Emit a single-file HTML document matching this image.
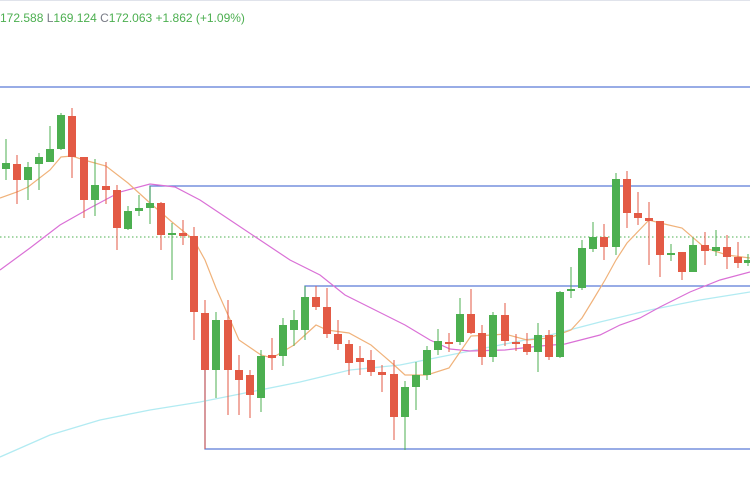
<!DOCTYPE html>
<html><head><meta charset="utf-8"><style>
html,body{margin:0;padding:0;background:#fff;}
svg{display:block;font-family:"Liberation Sans",sans-serif;}
</style></head><body>
<svg id="c" width="750" height="500" viewBox="0 0 750 500" xmlns="http://www.w3.org/2000/svg">
<rect width="750" height="500" fill="#fff"/>
<line x1="0" y1="0.5" x2="750" y2="0.5" stroke="#e0e3eb"/>
<text x="0" y="22" font-size="12" fill="#4caf50">172.588 <tspan fill="#787b86">L</tspan>169.124 <tspan fill="#787b86">C</tspan>172.063 +1.862 (+1.09%)</text>
<line x1="0" y1="237" x2="750" y2="237" stroke="#4caf50" stroke-dasharray="1.5,2.5" stroke-width="1"/>
<g stroke="#5b7bd6" stroke-width="1.3" fill="none">
<line x1="0" y1="87" x2="750" y2="87"/>
<polyline points="150,203 150,186 750,186"/>
<polyline points="305,297 305,286 750,286"/>
<polyline points="205,370 205,449 750,449"/>
</g>
<polyline fill="none" stroke="#b2ebf2" stroke-width="1.3" points="0,457 50,435 100,420 150,410 200,402 250,392 300,382 350,370 400,365 450,355 500,345 550,335 600,322 650,310 700,300 750,292"/>
<polyline fill="none" stroke="#da70d6" stroke-width="1.2" points="0,270 30,248 60,225 90,208 120,192 150,184 175,187 200,200 230,220 260,240 290,260 320,275 345,295 375,310 405,325 430,340 450,349 470,351 505,350 540,346 565,344 600,335 620,325 640,318 660,307 690,292 720,280 750,272"/>
<polyline fill="none" stroke="#f0b27a" stroke-width="1.2" points="0,198 17,192 28,187 50,170 61,157 72,156 84,160 106,166 128,183 150,203 172,222 194,240 205,260 216,288 228,315 239,340 261,355 272,358 294,345 305,335 316,325 327,330 349,333 371,345 393,364 405,375 427,375 449,368 471,336 493,335 505,334 527,340 549,338 571,330 582,318 593,300 605,280 616,260 627,243 649,220 660,223 682,228 705,248 727,255 750,258"/>
<g id="cs"></g>
</svg>
<script>
var d=[
[6,163,169,139,180,1],[17,164,180,155,204,0],[28,167,180,162,200,1],[39,157,164,153,190,1],[50,149,162,126,162,1],[61,115,149,113,150,1],[72,116,157,108,178,0],
[84,157,200,157,218,0],[95,185,200,159,216,1],[106,186,190,162,204,0],[117,190,228,185,250,0],[128,211,229,206,230,1],[139,208,211,195,216,1],[150,203,208,186,224,1],
[161,203,235,202,250,0],[172,233,235,223,280,1],[183,233,236,220,245,0],[194,236,312,227,340,0],[205,313,370,300,449,0],[216,320,370,312,398,1],[228,320,370,300,415,0],
[239,370,380,355,415,0],[250,375,395,370,418,0],[261,356,398,350,412,1],[272,355,358,338,370,0],[283,325,356,318,366,1],[294,320,330,310,346,1],[305,297,330,286,340,1],
[316,297,307,286,310,0],[327,307,334,288,338,0],[338,334,344,320,350,0],[349,344,363,340,375,0],[360,358,362,346,375,0],[371,360,372,350,376,0],[382,372,375,365,392,0],
[394,374,417,360,440,0],[405,387,417,381,450,1],[416,375,387,362,410,1],[427,350,375,346,380,1],[438,341,350,329,355,1],[449,342,344,333,352,0],[460,314,342,298,345,1],
[471,314,333,289,334,0],[482,333,357,325,365,0],[493,315,357,312,362,1],[505,315,341,303,346,0],[516,342,344,334,351,0],[527,344,352,333,355,0],[538,335,352,323,372,1],
[549,335,357,330,360,0],[560,292,357,291,358,1],[571,289,291,267,298,1],[582,248,288,240,290,1],[593,237,249,222,252,1],[604,237,247,224,260,0],[616,179,247,173,255,1],
[627,179,213,171,228,0],[638,213,218,192,225,0],[649,218,221,202,265,0],[660,221,255,221,277,0],[671,253,255,244,261,1],[682,252,272,252,280,0],[693,245,272,237,272,1],
[705,245,251,232,265,0],[716,247,251,230,256,1],[727,247,257,235,269,0],[738,257,263,242,268,0],[748,260,263,254,266,1]];
var g=document.getElementById('cs'),s='';
d.forEach(function(c){var col=c[5]?'#4caf50':'#e35a45';
s+='<line x1="'+c[0]+'" y1="'+c[3]+'" x2="'+c[0]+'" y2="'+c[4]+'" stroke="'+col+'" stroke-width="1"/>';
s+='<rect x="'+(c[0]-4)+'" y="'+c[1]+'" width="8" height="'+Math.max(2,c[2]-c[1])+'" fill="'+col+'"/>';});
g.innerHTML=s;
</script>
</body></html>
